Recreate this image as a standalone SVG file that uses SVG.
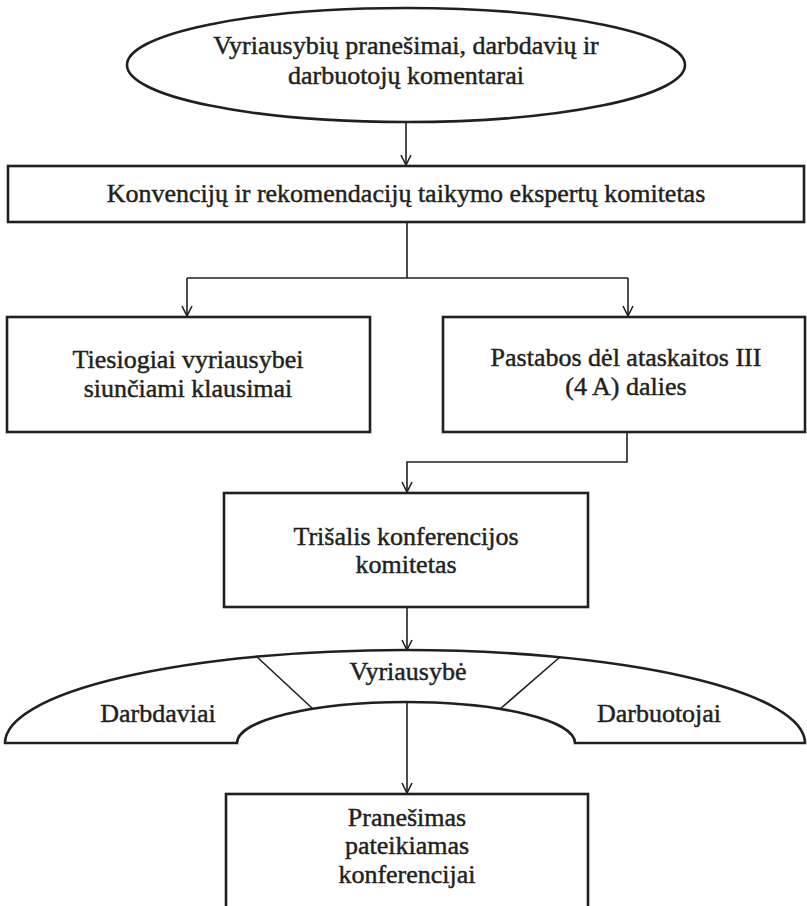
<svg xmlns="http://www.w3.org/2000/svg" width="807" height="906" viewBox="0 0 807 906">
  <defs>
    <marker id="arrow" markerUnits="userSpaceOnUse" markerWidth="12" markerHeight="12" viewBox="0 0 12 12" refX="11" refY="6" orient="auto">
      <path d="M1,1 L11,6 L1,11" fill="none" stroke="#231f20" stroke-width="1.6"/>
    </marker>
  </defs>
  <style>
    .box { fill: #ffffff; stroke: #231f20; stroke-width: 2.6; }
    .thin { fill: none; stroke: #231f20; stroke-width: 1.6; }
    .lbl { font-family: "Liberation Serif", "Times New Roman", serif; font-size: 26px; fill: #231f20; stroke: #231f20; stroke-width: 0.45; text-anchor: middle; }
  </style>
  <rect width="807" height="906" fill="#ffffff"/>

  <!-- connectors -->
  <g id="connectors">
    <path class="thin" d="M406,122 V165" marker-end="url(#arrow)"/>
    <path class="thin" d="M407,223 V278 M187,278 H628" />
    <path class="thin" d="M187,278 V316" marker-end="url(#arrow)"/>
    <path class="thin" d="M628,278 V316" marker-end="url(#arrow)"/>
    <path class="thin" d="M627,433 V462 H407 V492" marker-end="url(#arrow)"/>
    <path class="thin" d="M407,608 V650" marker-end="url(#arrow)"/>
    <path class="thin" d="M407,703 V793" marker-end="url(#arrow)"/>
  </g>

  <!-- source reports -->
  <g id="reports">
    <ellipse class="box" cx="406" cy="65" rx="279" ry="57"/>
    <text class="lbl" x="406" y="54">Vyriausybių pranešimai, darbdavių ir</text>
    <text class="lbl" x="406" y="84">darbuotojų komentarai</text>
  </g>

  <!-- committee of experts -->
  <g id="experts">
    <rect class="box" x="8" y="166" width="796" height="56"/>
    <text class="lbl" x="406" y="202">Konvencijų ir rekomendacijų taikymo ekspertų komitetas</text>
  </g>

  <!-- direct requests -->
  <g id="requests">
    <rect class="box" x="7" y="317" width="363" height="115"/>
    <text class="lbl" x="188" y="368">Tiesiogiai vyriausybei</text>
    <text class="lbl" x="188" y="397">siunčiami klausimai</text>
  </g>

  <!-- observations -->
  <g id="observations">
    <rect class="box" x="443" y="317" width="362" height="115"/>
    <text class="lbl" x="626" y="366">Pastabos dėl ataskaitos III</text>
    <text class="lbl" x="626" y="395">(4 A) dalies</text>
  </g>

  <!-- tripartite committee -->
  <g id="tripartite">
    <rect class="box" x="224" y="493" width="364" height="114"/>
    <text class="lbl" x="406" y="545">Trišalis konferencijos</text>
    <text class="lbl" x="406" y="573">komitetas</text>
  </g>

  <!-- constituents arch -->
  <g id="constituents">
    <path class="box" d="M5,743 A400,93 0 0 1 805,743 H575 A169,41 0 0 0 237,743 Z"/>
    <path class="thin" d="M256,656 L313,709 M560,657 L500,709"/>
    <text class="lbl" x="408" y="680">Vyriausybė</text>
    <text class="lbl" x="158" y="722">Darbdaviai</text>
    <text class="lbl" x="659" y="722">Darbuotojai</text>
  </g>

  <!-- report to conference -->
  <g id="report">
    <rect class="box" x="226" y="794" width="362" height="130"/>
    <text class="lbl" x="407" y="826">Pranešimas</text>
    <text class="lbl" x="407" y="854">pateikiamas</text>
    <text class="lbl" x="407" y="883">konferencijai</text>
  </g>
</svg>
